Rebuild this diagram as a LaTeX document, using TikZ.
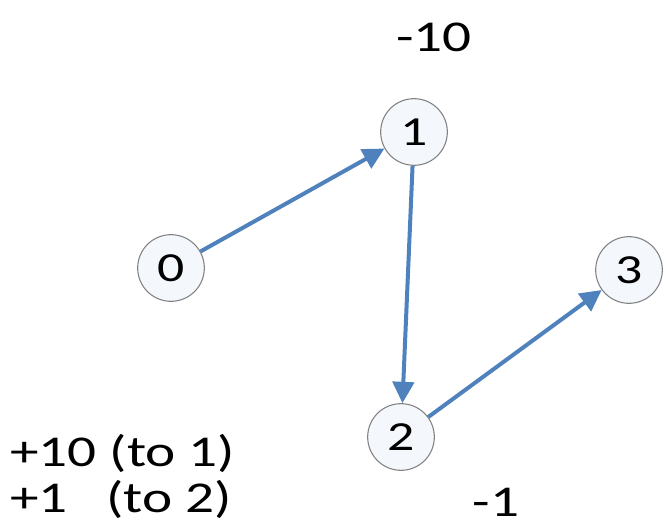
\documentclass[tikz,border=0pt]{standalone}
\usepackage{fontspec}
\setmainfont{Carlito}[FakeStretch=1.3]
\usetikzlibrary{arrows.meta}
\definecolor{edgeblue}{RGB}{79,129,189}
\definecolor{statefill}{RGB}{244,248,252}
\begin{document}
\begin{tikzpicture}[x=0.75pt,y=-0.75pt,
    state/.style={circle,draw=black!50,line width=0.8pt,fill=statefill,minimum size=50pt,inner sep=0pt,font=\fontsize{31}{36}\selectfont},
    lbl/.style={inner sep=0pt,font=\fontsize{33}{40}\selectfont},
    arr/.style={edgeblue,line width=3pt,-{Triangle[length=16pt,width=16pt]}}]
    \useasboundingbox (0,0) rectangle (668,527);
    \node[state] (n0) at (171,268) {0};
    \node[state] (n1) at (414,132) {1};
    \node[state] (n2) at (401,437) {2};
    \node[state] (n3) at (629,270) {3};
    \draw[arr] (n0) -- (n1);
    \draw[arr] (n1) -- (n2);
    \draw[arr] (n2) -- (n3);
    \node[lbl] (w1) at (434,37) {-10};
    \node[lbl] (w2) at (496,502) {-1};
    \node[lbl,anchor=west] (r1) at (10,453) {+10 (to 1)};
    \node[lbl,anchor=west] (r2) at (10,499) {+1\ \ \ (to 2)};
\end{tikzpicture}
\end{document}
